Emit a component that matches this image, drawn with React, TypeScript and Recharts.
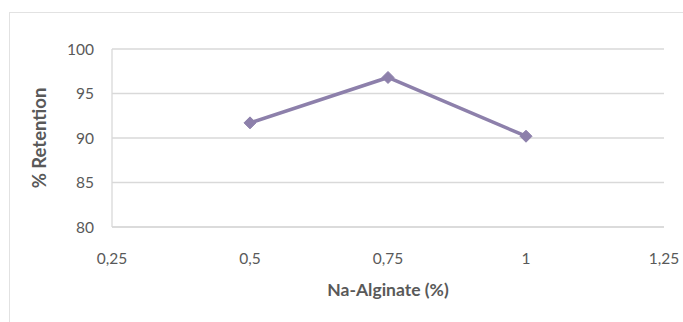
import React from 'react';
import { LineChart, Line, XAxis, YAxis, CartesianGrid, Label } from 'recharts';

// Retention vs. sodium alginate concentration
const alginateLevels = [0.5, 0.75, 1];
const retentionValues = [91.7, 96.8, 90.2];
const xTicks = [0.25, 0.5, 0.75, 1, 1.25];
const yTicks = [80, 85, 90, 95, 100];

const data = alginateLevels.map((x, i) => ({ x, retention: retentionValues[i] }));

const FONT = 'Lato, "Open Sans", sans-serif';
const TEXT = '#595959';
const LINE = '#8d80ab';

const formatComma = (v: number) => String(v).replace('.', ',');

const Diamond = (props: any) => {
  const { cx, cy } = props;
  if (cx == null || cy == null) return null;
  const r = 6;
  return (
    <path
      d={`M${cx},${cy - r} L${cx + r},${cy} L${cx},${cy + r} L${cx - r},${cy} Z`}
      fill={LINE}
      stroke={LINE}
    />
  );
};

export default function App() {
  return (
    <div style={{ position: 'absolute', left: 0, top: 0, width: 683, height: 322, background: '#fff', fontFamily: FONT }}>
      <div
        style={{
          position: 'absolute',
          left: 9,
          top: 12,
          width: 690,
          height: 330,
          border: '1px solid #e2e2e2',
        }}
      />
      <LineChart
        width={683}
        height={322}
        data={data}
        margin={{ top: 49, right: 19, left: 0, bottom: 0 }}
        style={{ position: 'absolute', left: 0, top: 0 }}
      >
        <CartesianGrid vertical={false} stroke="#d9d9d9" strokeWidth={1.3} />
        <XAxis
          dataKey="x"
          type="number"
          domain={[0.25, 1.25]}
          ticks={xTicks}
          tickFormatter={formatComma}
          axisLine={{ stroke: '#d9d9d9', strokeWidth: 1.3 }}
          tickLine={false}
          tickMargin={20}
          height={95}
          tick={{ fill: TEXT, fontSize: 15.5, fontFamily: FONT }}
        >
          <Label
            value="Na-Alginate (%)"
            position="insideBottom"
            offset={26}
            style={{ fill: TEXT, fontSize: 17.5, fontWeight: 700, fontFamily: FONT }}
          />
        </XAxis>
        <YAxis
          type="number"
          domain={[80, 100]}
          ticks={yTicks}
          width={112}
          axisLine={{ stroke: '#d9d9d9', strokeWidth: 1.3 }}
          tickLine={false}
          tickMargin={12}
          tick={{ fill: TEXT, fontSize: 15.5, fontFamily: FONT }}
        >
          <Label
            value="% Retention"
            angle={-90}
            position="insideLeft"
            offset={39}
            style={{ fill: TEXT, fontSize: 18.5, fontWeight: 700, fontFamily: FONT, textAnchor: 'middle' }}
          />
        </YAxis>
        <Line
          dataKey="retention"
          stroke={LINE}
          strokeWidth={3.5}
          dot={<Diamond />}
          activeDot={false}
          isAnimationActive={false}
        />
      </LineChart>
    </div>
  );
}
